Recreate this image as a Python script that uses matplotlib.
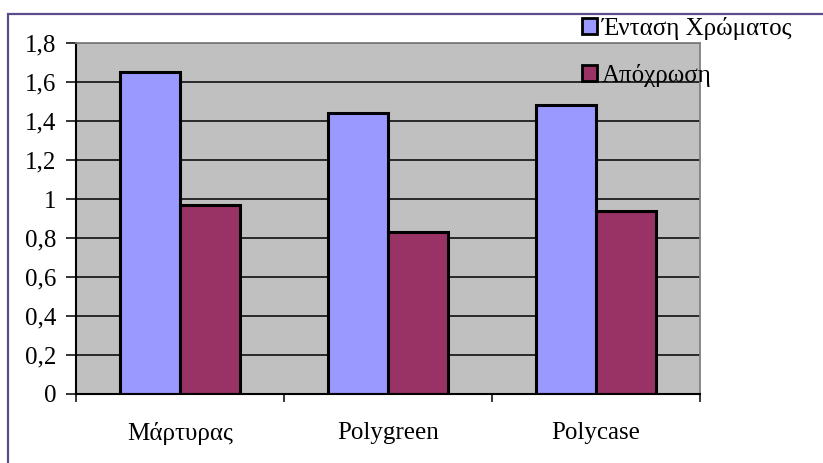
import matplotlib.pyplot as plt
import numpy as np
from matplotlib.patches import Patch, Rectangle
from matplotlib.ticker import FuncFormatter, FixedLocator

# ── Data ─────────────────────────────────────────────────────────────────────
categories = ['Μάρτυρας', 'Polygreen', 'Polycase']
intensity = [1.65, 1.44, 1.48]   # Ένταση Χρώματος
hue = [0.97, 0.83, 0.94]         # Απόχρωση
series_names = ['Ένταση Χρώματος', 'Απόχρωση']

BLUE = '#9999ff'
WINE = '#993366'
GRAY = '#c0c0c0'
FS = 18

plt.rcParams['font.family'] = ['Liberation Serif', 'DejaVu Serif']

fig = plt.figure(figsize=(8.23, 4.63), dpi=100)
ax = fig.add_axes([76 / 823, 1 - 394 / 463, 624 / 823, 351 / 463])
ax.set_facecolor(GRAY)

x = np.arange(len(categories))
width = 0.29
ax.bar(x - width / 2, intensity, width, color=BLUE, edgecolor='black', linewidth=2.2, zorder=2)
ax.bar(x + width / 2, hue, width, color=WINE, edgecolor='black', linewidth=2.2, zorder=2)

ax.set_xlim(-0.5, len(categories) - 0.5)
ax.set_ylim(0, 1.8)
ax.set_yticks(np.arange(0, 1.81, 0.2))
ax.yaxis.set_major_formatter(FuncFormatter(lambda v, p: f'{v:.1f}'.rstrip('0').rstrip('.').replace('.', ',')))
ax.set_xticks(x)
ax.set_xticklabels(categories)
ax.xaxis.set_minor_locator(FixedLocator(np.arange(-0.5, len(categories), 1.0)))

ax.tick_params(axis='y', direction='out', length=7, width=1.1, pad=7, labelsize=FS, colors='black')
ax.tick_params(axis='x', which='major', length=0, pad=20, labelsize=FS)
ax.tick_params(axis='x', which='minor', direction='out', length=6, width=1.1)

ax.set_axisbelow(True)
ax.yaxis.grid(True, color='black', linewidth=1.1)

ax.spines['left'].set_linewidth(1.5)
ax.spines['bottom'].set_linewidth(1.5)
ax.spines['top'].set_color('#808080')
ax.spines['right'].set_color('#808080')
ax.spines['top'].set_linewidth(1.3)
ax.spines['right'].set_linewidth(1.3)

handles = [Patch(facecolor=BLUE, edgecolor='black', linewidth=2),
           Patch(facecolor=WINE, edgecolor='black', linewidth=2)]
fig.legend(handles, series_names, loc='upper left', bbox_to_anchor=(582 / 823, 1 - 17 / 463),
           frameon=False, fontsize=FS, handlelength=0.6, handleheight=0.6,
           handletextpad=0.2, labelspacing=0.95, borderpad=0, borderaxespad=0)

# outer chart border
fig.patches.append(Rectangle((8 / 823, -0.1), 1.0, 1.1 - 14 / 463, transform=fig.transFigure,
                             fill=False, edgecolor='#5c4c8a', linewidth=1.6, zorder=10))

fig.savefig('out.png', dpi=100)
